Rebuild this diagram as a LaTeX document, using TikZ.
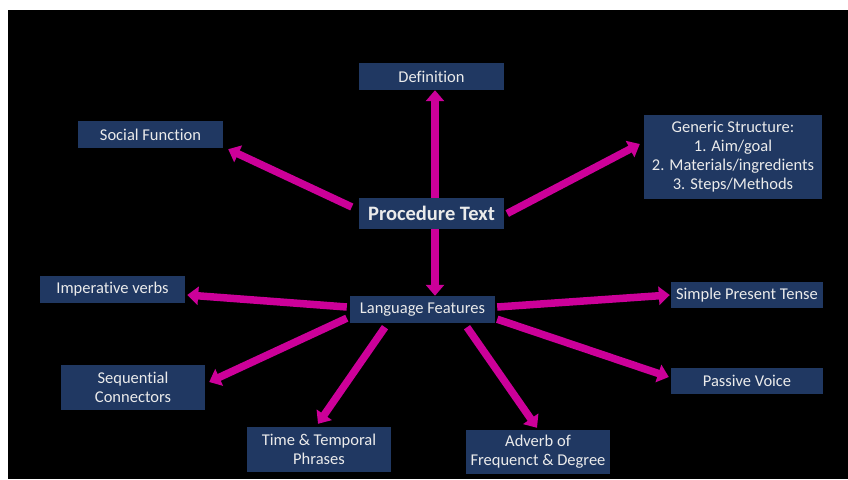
\documentclass[tikz,border=0pt]{standalone}
\usepackage{fontspec}
\setmainfont{Carlito}[Ligatures=NoCommon]
\usepackage{xcolor}
\usepackage{tikz}
\usetikzlibrary{calc}
\usetikzlibrary{arrows.meta}

\definecolor{boxblue}{RGB}{32,56,98}
\definecolor{arrowpink}{RGB}{204,0,153}

\begin{document}
\begin{tikzpicture}[x=1pt,y=-1pt]
                \tikzstyle{box}  = [rectangle, fill=boxblue, text=white!92!black, inner sep=0pt, align=center, font=\fontsize{16.5}{19}\selectfont]
                \tikzstyle{arr}  = [draw=arrowpink, line width=7.5pt, -{Triangle[width=18pt,length=11pt]}]
                \useasboundingbox (0,0) rectangle (848,479);
                \fill[white] (0,0) rectangle (848,479);
                \fill[black] (8,10) rectangle (848,479);

                \node [box, minimum width=145, minimum height=31, font=\bfseries\fontsize{20.5}{24}\selectfont](pt) at (431.5,213.5) {Procedure Text};
                \node [box, minimum width=145, minimum height=27](def) at (431.5,76.5) {Definition};
                \node [box, minimum width=145, minimum height=27](soc) at (150.5,134.5) {Social Function};
                \node [box, minimum width=178, minimum height=84](gen) at (733,157) {Generic Structure:\\1. Aim/goal\\2. Materials/ingredients\\3. Steps/Methods};
                \node [box, minimum width=145, minimum height=27](lf) at (422.5,309.5) {Language Features};
                \node [box, minimum width=145, minimum height=27](imp) at (112.5,289.5) {Imperative verbs};
                \node [box, minimum width=144, minimum height=45](seq) at (133,387.5) {Sequential\\Connectors};
                \node [box, minimum width=144, minimum height=45](time) at (319,449.5) {Time \& Temporal\\Phrases};
                \node [box, minimum width=144, minimum height=44](adv) at (538,452) {Adverb of\\Frequenct \& Degree};
                \node [box, minimum width=152, minimum height=26](spt) at (747,295) {Simple Present Tense};
                \node [box, minimum width=152, minimum height=26](pv) at (747,381) {Passive Voice};

                \draw [arr] ($(pt.north)+(3.5,0)$) -- ($(def.south)+(3.5,0)$);
                \draw [arr] ($(pt.west)+(-7,-6.5)$) -- ($(soc.south east)+(5,1)$);
                \draw [arr] ($(pt.east)+(3,0)$) -- ($(gen.west)+(-4,-13)$);
                \draw [arr] ($(pt.south)+(3.5,0)$) -- ($(lf.north)+(12.5,0)$);

                \draw [arr] ($(lf.west)+(-3,-2.5)$) -- ($(imp.east)+(2,5.5)$);
                \draw [arr] ($(lf.south west)+(-3,-5)$) -- ($(seq.east)+(4,-5.5)$);
                \draw [arr] ($(lf.south)+(-37.5,4)$) -- ($(time.north)+(-1,-3)$);
                \draw [arr] ($(lf.south)+(44.5,4)$) -- ($(adv.north)+(-1,-2)$);
                \draw [arr] ($(lf.east)+(2,-2.5)$) -- ($(spt.west)+(-1,0)$);
                \draw [arr] ($(lf.south east)+(2,-4)$) -- ($(pv.west)+(-2,-4)$);
\end{tikzpicture}
\end{document}
